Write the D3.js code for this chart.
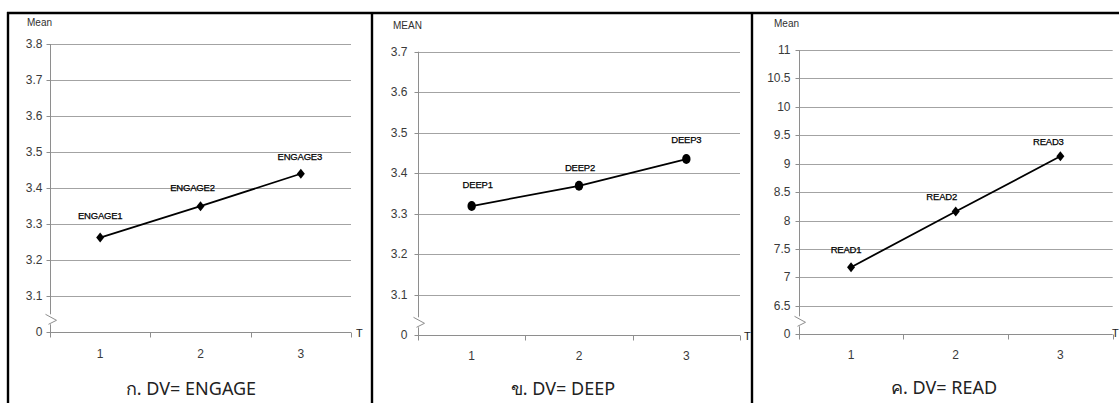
<!DOCTYPE html>
<html>
<head>
<meta charset="utf-8">
<script src="https://cdn.jsdelivr.net/npm/d3@7"></script>
<style>
  html, body { margin: 0; padding: 0; background: #fff; }
  svg { display: block; }
</style>
</head>
<body>
<svg id="chart" width="1119" height="403"></svg>
<script>
// ---------- DATA ----------
const categories = ["1", "2", "3"];

const engageValues = [3.263, 3.35, 3.44];
const engageLabels = ["ENGAGE1", "ENGAGE2", "ENGAGE3"];
const engageTicks = [3.0, 3.1, 3.2, 3.3, 3.4, 3.5, 3.6, 3.7, 3.8];
const engageTickLabels = ["0", "3.1", "3.2", "3.3", "3.4", "3.5", "3.6", "3.7", "3.8"];

const deepValues = [3.319, 3.369, 3.435];
const deepLabels = ["DEEP1", "DEEP2", "DEEP3"];
const deepTicks = [3.0, 3.1, 3.2, 3.3, 3.4, 3.5, 3.6, 3.7];
const deepTickLabels = ["0", "3.1", "3.2", "3.3", "3.4", "3.5", "3.6", "3.7"];

const readValues = [7.18, 8.16, 9.13];
const readLabels = ["READ1", "READ2", "READ3"];
const readTicks = [6.0, 6.5, 7, 7.5, 8, 8.5, 9, 9.5, 10, 10.5, 11];
const readTickLabels = ["0", "6.5", "7", "7.5", "8", "8.5", "9", "9.5", "10", "10.5", "11"];

const yTitles = ["Mean", "MEAN", "Mean"];
const xTitle = "T";
const captions = ["ก. DV= ENGAGE", "ข. DV= DEEP", "ค. DV= READ"];

// ---------- LAYOUT ----------
const panels = [
  { values: engageValues, labels: engageLabels, ticks: engageTicks, tickLabels: engageTickLabels,
    yTitle: yTitles[0], caption: captions[0], marker: "diamond",
    x0: 50, x1: 351, yBottom: 332.3, yTop: 44, labelGap: 8,
    titleX: 27, titleY: 26, tX: 356, tY: 337, tickLabelY: 358, captionX: 191, captionY: 395,
    nudges: [[0, -18.5], [-8, -15], [-1, -13.5]] },
  { values: deepValues, labels: deepLabels, ticks: deepTicks, tickLabels: deepTickLabels,
    yTitle: yTitles[1], caption: captions[1], marker: "circle",
    x0: 418, x1: 740, yBottom: 335.3, yTop: 51.7, labelGap: 11,
    titleX: 393, titleY: 29, tX: 744, tY: 340, tickLabelY: 360, captionX: 563, captionY: 395,
    nudges: [[6, -18], [1, -14.5], [0, -16]] },
  { values: readValues, labels: readLabels, ticks: readTicks, tickLabels: readTickLabels,
    yTitle: yTitles[2], caption: captions[2], marker: "diamond",
    x0: 798.7, x1: 1112.7, yBottom: 334.3, yTop: 50, labelGap: 9,
    titleX: 774, titleY: 27, tX: 1112, tY: 337, tickLabelY: 359, captionX: 944, captionY: 394,
    nudges: [[-5, -14], [-14, -11], [-12, -11]] }
];

const svg = d3.select("#chart");
const gridColor = "#a3a3a3";
const axisColor = "#8e8e8e";
const tickFont = "'Liberation Sans', Arial, sans-serif";

panels.forEach(p => {
  const g = svg.append("g");
  const x = d3.scaleBand().domain(categories).range([p.x0, p.x1]).padding(0);
  const y = d3.scaleLinear()
    .domain([p.ticks[0], p.ticks[p.ticks.length - 1]])
    .range([p.yBottom, p.yTop]);

  // gridlines (skip bottom, which is the x axis)
  g.append("g").selectAll("line")
    .data(p.ticks.slice(1))
    .join("line")
    .attr("x1", p.x0).attr("x2", p.x1)
    .attr("y1", d => Math.round(y(d)) + 0.5).attr("y2", d => Math.round(y(d)) + 0.5)
    .attr("stroke", gridColor).attr("stroke-width", 1);

  // y axis
  const yAxis = d3.axisLeft(y)
    .tickValues(p.ticks)
    .tickSize(4)
    .tickPadding(p.labelGap - 4)
    .tickFormat((d, i) => p.tickLabels[i]);
  const ya = g.append("g").attr("transform", `translate(${Math.round(p.x0) + 0.5},0)`).call(yAxis);
  ya.select(".domain").attr("stroke", axisColor).attr("d", `M0,${p.yTop}V${p.yBottom}`);
  ya.selectAll(".tick line").attr("stroke", axisColor);
  ya.selectAll(".tick").attr("transform", d => `translate(0,${Math.round(y(d)) + 0.5})`);
  ya.selectAll("text").attr("fill", "#3a3a3a").style("font-family", tickFont).style("font-size", "12px");

  // x axis
  const xa = g.append("g").attr("transform", `translate(0,${Math.round(p.yBottom) + 0.5})`);
  xa.append("line").attr("x1", p.x0).attr("x2", p.x1).attr("stroke", axisColor);
  const bounds = categories.map(c => x(c)).concat([p.x1]);
  xa.selectAll("line.tk").data(bounds).join("line").attr("class", "tk")
    .attr("x1", d => Math.round(d) + 0.5).attr("x2", d => Math.round(d) + 0.5)
    .attr("y1", 0).attr("y2", 5).attr("stroke", axisColor);
  g.selectAll("text.xl").data(categories).join("text").attr("class", "xl")
    .attr("x", d => x(d) + x.bandwidth() / 2).attr("y", p.tickLabelY)
    .attr("text-anchor", "middle").attr("fill", "#3a3a3a")
    .style("font-family", tickFont).style("font-size", "12px").text(d => d);

  // axis break symbol
  const ax = Math.round(p.x0) + 0.5, yb = p.yBottom - 12;
  g.append("rect").attr("x", ax - 3).attr("y", yb - 6).attr("width", 6).attr("height", 10).attr("fill", "#fff");
  g.append("path").attr("d", `M${ax - 5},${yb - 6}L${ax + 6},${yb}L${ax - 2},${yb + 4}`)
    .attr("fill", "none").attr("stroke", axisColor).attr("stroke-width", 1);

  // titles
  g.append("text").attr("x", p.titleX).attr("y", p.titleY)
    .attr("fill", "#303030").style("font-family", tickFont).style("font-size", "10px").text(p.yTitle);
  g.append("text").attr("x", p.tX).attr("y", p.tY)
    .attr("fill", "#202020").style("font-family", tickFont).style("font-size", "11px").text(xTitle);

  // line
  const pts = p.values.map((v, i) => [x(categories[i]) + x.bandwidth() / 2, y(v)]);
  g.append("path").attr("d", d3.line()(pts))
    .attr("fill", "none").attr("stroke", "#000").attr("stroke-width", 1.8);

  // markers
  if (p.marker === "diamond") {
    g.selectAll("path.mk").data(pts).join("path").attr("class", "mk")
      .attr("d", d => `M${d[0]},${d[1] - 5}L${d[0] + 4},${d[1]}L${d[0]},${d[1] + 5}L${d[0] - 4},${d[1]}Z`)
      .attr("fill", "#000");
  } else {
    g.selectAll("ellipse.mk").data(pts).join("ellipse").attr("class", "mk")
      .attr("cx", d => d[0]).attr("cy", d => d[1]).attr("rx", 4.2).attr("ry", 5)
      .attr("fill", "#000");
  }

  // data labels
  g.selectAll("text.dl").data(pts).join("text").attr("class", "dl")
    .attr("x", (d, i) => d[0] + p.nudges[i][0]).attr("y", (d, i) => d[1] + p.nudges[i][1])
    .attr("text-anchor", "middle").attr("fill", "#000")
    .attr("stroke", "#000").attr("stroke-width", 0.25)
    .style("font-family", tickFont).style("font-size", "9.5px").style("letter-spacing", "-0.2px")
    .text((d, i) => p.labels[i]);

  // caption
  g.append("text").attr("x", p.captionX).attr("y", p.captionY)
    .attr("text-anchor", "middle").attr("fill", "#222")
    .style("font-family", "'Noto Sans', 'DejaVu Sans', sans-serif").style("font-size", "18px")
    .text(p.caption);
});

// table borders
const border = svg.append("g").attr("stroke", "#000").attr("stroke-width", 2.4);
border.append("line").attr("x1", 7).attr("x2", 1119).attr("y1", 13).attr("y2", 13);
[8, 372, 752].forEach(bx => {
  border.append("line").attr("x1", bx).attr("x2", bx).attr("y1", 12).attr("y2", 403);
});
</script>
</body>
</html>
